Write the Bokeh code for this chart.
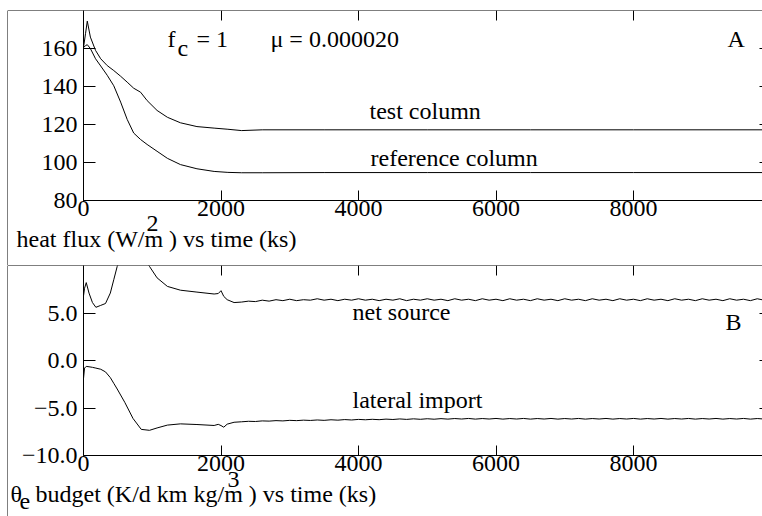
from bokeh.plotting import figure
from bokeh.models import LinearAxis, FixedTicker, Label, Range1d, CustomJSTickFormatter
from bokeh.layouts import column
from bokeh.embed import file_html
from bokeh.resources import INLINE

# ---------------- data ----------------
# Panel A: heat flux (W/m^2) vs time (ks)
t_a = [0, 30, 55, 100, 175, 250, 345, 440, 540, 635, 730, 830, 925, 1070,
       1220, 1410, 1650, 1900, 2100, 2300, 2600, 3500, 5000, 6500, 8000, 9900]
test_column = [160.5, 168.0, 174.4, 166.0, 159.0, 154.6, 151.0, 148.4, 145.4,
               142.3, 139.1, 137.0, 132.6, 127.4, 123.8, 120.9, 118.9, 118.1,
               117.5, 116.8, 117.2, 117.2, 117.2, 117.2, 117.2, 117.2]
reference_column = [160.5, 161.5, 162.0, 160.0, 154.6, 150.8, 145.9, 140.4,
                    131.8, 122.7, 115.5, 112.1, 109.5, 105.9, 102.2, 98.9,
                    96.7, 95.3, 94.8, 94.6, 94.6, 94.7, 94.7, 94.7, 94.7, 94.7]

# Panel B: theta_e budget vs time (ks)
t_b_early = [0, 15, 40, 80, 130, 180, 250, 320, 390, 440, 490, 600, 720, 840,
             960, 1070, 1220, 1410, 1650, 1900, 1960, 2000, 2040, 2090, 2190]
net_early = [6.8, 7.6, 8.2, 7.1, 6.1, 5.6, 5.8, 6.0, 7.1, 8.5, 9.9, 11.5, 12.0,
             11.3, 9.9, 8.7, 7.8, 7.4, 7.2, 7.0, 7.05, 7.35, 6.75, 6.4, 6.1]
lat_early = [-1.9, -0.8, -0.62, -0.66, -0.72, -0.8, -0.92, -1.2, -1.8, -2.4,
             -3.0, -4.4, -6.1, -7.25, -7.35, -7.1, -6.8, -6.67, -6.74, -6.84,
             -6.72, -6.85, -7.02, -6.7, -6.5]
t_b_steady = list(range(2300, 10000, 100))
net_steady = [6.15, 6.25, 6.2, 6.35, 6.25, 6.4, 6.3, 6.45, 6.3, 6.4,
              6.35, 6.5, 6.35, 6.45, 6.3, 6.45, 6.35, 6.5, 6.35, 6.45,
              6.3, 6.45, 6.35, 6.5, 6.3, 6.45, 6.35, 6.5, 6.35, 6.45,
              6.3, 6.5, 6.35, 6.45, 6.3, 6.5, 6.35, 6.45, 6.3, 6.5,
              6.35, 6.45, 6.3, 6.5, 6.35, 6.45, 6.3, 6.5, 6.35, 6.45,
              6.3, 6.5, 6.35, 6.45, 6.3, 6.5, 6.35, 6.45, 6.3, 6.5,
              6.35, 6.45, 6.3, 6.5, 6.35, 6.45, 6.3, 6.5, 6.35, 6.45,
              6.3, 6.5, 6.35, 6.45, 6.3, 6.5, 6.35]
lat_steady = [-6.45, -6.4, -6.42, -6.36, -6.38, -6.33, -6.36, -6.3, -6.33, -6.28,
              -6.31, -6.26, -6.3, -6.24, -6.28, -6.22, -6.26, -6.2, -6.24, -6.19,
              -6.23, -6.17, -6.21, -6.15, -6.2, -6.14, -6.19, -6.13, -6.18, -6.12,
              -6.17, -6.11, -6.16, -6.1, -6.17, -6.11, -6.16, -6.1, -6.17, -6.11,
              -6.16, -6.1, -6.17, -6.11, -6.16, -6.1, -6.17, -6.11, -6.16, -6.1,
              -6.17, -6.11, -6.16, -6.1, -6.17, -6.11, -6.16, -6.1, -6.17, -6.11,
              -6.16, -6.1, -6.17, -6.11, -6.16, -6.1, -6.17, -6.11, -6.16, -6.1,
              -6.17, -6.11, -6.16, -6.1, -6.17, -6.11, -6.16]
t_b = t_b_early + t_b_steady
net_source = net_early + net_steady
lateral_import = lat_early + lat_steady

x_ticks = [0, 2000, 4000, 6000, 8000]
a_ticks = [80, 100, 120, 140, 160]
b_ticks = [-10, -5, 0, 5]

# ---------------- layout constants ----------------
FONT = "'Liberation Serif', 'Times New Roman', serif"
FS = "24px"
W = 762
PX_PER_X = 0.06875          # pixels per ks
X0_PX = 83                  # canvas x of t = 0
FRAME_L = 7
X_START = (FRAME_L - X0_PX) / PX_PER_X
X_END = (W - X0_PX) / PX_PER_X

A_TOP, A_BOT_AX = 180.0, 80.0
A_SCALE = 1.9               # px per unit
A_H = 265
A_BORDER_TOP = 10
A_Y_START = A_BOT_AX - (A_H - 200) / A_SCALE

B_TOP, B_BOT_AX = 10.0, -10.0
B_SCALE = 9.5
B_H = 251
B_Y_START = B_TOP - B_H / B_SCALE

LABEL_DY = 9                # rendered baseline sits this many px below the anchor


def ax_x(px):
    return (px - X0_PX) / PX_PER_X


def a_y(py):
    return A_BOT_AX + (200 - (py - LABEL_DY)) / A_SCALE


def b_y(py):
    return (360 - (py - LABEL_DY)) / B_SCALE


def new_fig(h, y0, y1, top):
    p = figure(width=W, height=h, x_range=Range1d(X_START, X_END),
               y_range=Range1d(y0, y1), output_backend="svg",
               toolbar_location=None, x_axis_type=None, y_axis_type=None,
               min_border_left=FRAME_L, min_border_right=0,
               min_border_top=top, min_border_bottom=0)
    p.outline_line_color = None
    p.background_fill_color = "white"
    p.border_fill_color = "white"
    return p


def add_axis(p, side, loc, ticks, tick_in, show_labels=False, line=True,
             bounds="auto", formatter=None, standoff=5):
    ax = LinearAxis(fixed_location=loc, ticker=FixedTicker(ticks=ticks),
                    major_tick_in=tick_in, major_tick_out=0,
                    minor_tick_line_color=None, bounds=bounds,
                    major_tick_line_color="black",
                    axis_line_color="black" if line else None,
                    major_label_standoff=standoff,
                    major_label_text_font=FONT,
                    major_label_text_font_size=FS,
                    major_label_text_color="black" if show_labels else None)
    if formatter is not None:
        ax.formatter = formatter
    elif not show_labels:
        ax.formatter = CustomJSTickFormatter(code="return '';")
    p.add_layout(ax, side)
    return ax


def label(p, x, y, text):
    p.add_layout(Label(x=x, y=y, text=text, text_font=FONT, text_font_size=FS,
                       text_color="black", text_align="left",
                       text_baseline="alphabetic"))


# ---------------- panel A ----------------
pa = new_fig(A_H, A_Y_START, A_TOP, A_BORDER_TOP)
add_axis(pa, "above", A_TOP, x_ticks, 10)                    # top frame line
add_axis(pa, "left", X_START, [], 0)                         # outer left line
add_axis(pa, "left", 0, a_ticks, 12, show_labels=True, bounds=(A_BOT_AX, A_TOP),
         standoff=6)
add_axis(pa, "below", A_BOT_AX, x_ticks, 10, show_labels=True, bounds=(0, X_END),
         standoff=0)
add_axis(pa, "right", X_END, a_ticks, 3, line=False)

pa.line(t_a, test_column, line_color="black", line_width=1)
pa.line(t_a, reference_column, line_color="black", line_width=1)

label(pa, ax_x(167), a_y(47), "f")
label(pa, ax_x(177), a_y(56), "c")
label(pa, ax_x(196), a_y(47), "= 1")
label(pa, ax_x(270), a_y(47), "μ = 0.000020")
label(pa, ax_x(727), a_y(47), "A")
label(pa, ax_x(369), a_y(119), "test column")
label(pa, ax_x(370), a_y(166), "reference column")
label(pa, ax_x(16), a_y(247), "heat flux (W/m  ) vs time (ks)")
label(pa, ax_x(146), a_y(232), "2")

# ---------------- panel B ----------------
pb = new_fig(B_H, B_Y_START, B_TOP, 0)
add_axis(pb, "above", B_TOP, x_ticks, 10)                    # separator / top line
add_axis(pb, "left", X_START, [], 0)                         # outer left line
fmt_b = CustomJSTickFormatter(
    code="return (tick < 0 ? '\u2212' : '') + Math.abs(tick).toFixed(1);")
add_axis(pb, "left", 0, b_ticks, 12, show_labels=True, bounds=(B_BOT_AX, B_TOP),
         formatter=fmt_b, standoff=6)
add_axis(pb, "below", B_BOT_AX, x_ticks, 10, show_labels=True, bounds=(0, X_END),
         standoff=0)
add_axis(pb, "right", X_END, b_ticks, 3, line=False)

pb.line(t_b, net_source, line_color="black", line_width=1)
pb.line(t_b, lateral_import, line_color="black", line_width=1)

label(pb, ax_x(352), b_y(320), "net source")
label(pb, ax_x(725), b_y(330), "B")
label(pb, ax_x(352), b_y(408), "lateral import")
label(pb, ax_x(10), b_y(502), "θ")
label(pb, ax_x(19), b_y(510), "e")
label(pb, ax_x(35), b_y(502), "budget (K/d km kg/m  ) vs time (ks)")
label(pb, ax_x(227), b_y(488), "3")

layout = column(pa, pb, spacing=0)
open("out.html", "w").write(file_html(layout, INLINE))
